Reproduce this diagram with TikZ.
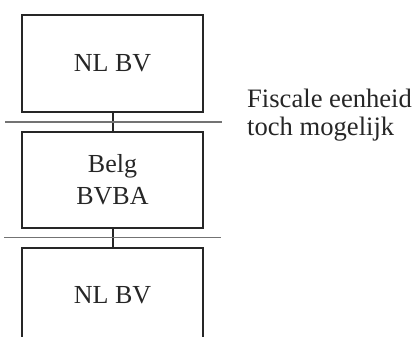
\documentclass[tikz,border=0pt]{standalone}
\usepackage{fontspec}
\setmainfont{Liberation Serif}
\begin{document}
\begin{tikzpicture}[x=1pt,y=-1pt,
  entity/.style={draw=black!85, line width=2pt, minimum width=181pt,
    minimum height=96pt, inner sep=0pt, align=center, text=black!85,
    font=\fontsize{26}{32}\selectfont},
  link/.style={draw=black!85, line width=2pt},
  border/.style={draw=black!55, line width=1.1pt},
  remark/.style={anchor=base west, inner sep=0pt, align=left, text=black!85,
    font=\fontsize{26.6}{28}\selectfont}]
  \useasboundingbox (0,0) rectangle (412,337);
  \clip (0,0) rectangle (412,337);

  % the three companies, stacked
  \node[entity] (top) at (112.5,63.5) {NL BV};
  \node[entity] (mid) at (112.5,179.5) {Belg\\BVBA};
  \node[entity] (bot) at (112.5,295.5) {NL BV};

  % ownership links
  \path[link] (top.south) -- (mid.north);
  \path[link] (mid.south) -- (bot.north);

  % national borders
  \coordinate (b1w) at (5,122);
  \coordinate (b1e) at (222,122);
  \coordinate (b2w) at (4,237.5);
  \coordinate (b2e) at (221,237.5);
  \path[border] (b1w) -- (b1e);
  \path[border] (b2w) -- (b2e);

  % remark (base anchor sits on the last line)
  \node[remark] (note) at (247,135) {Fiscale eenheid\\toch mogelijk};
\end{tikzpicture}
\end{document}
